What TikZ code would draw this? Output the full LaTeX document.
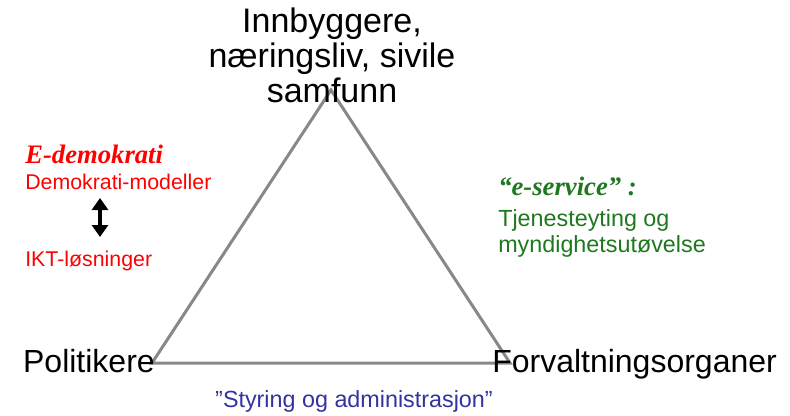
\documentclass[tikz,border=0pt]{standalone}
\usepackage{fontspec}
\setmainfont{Liberation Sans}
\newfontfamily\headfont{Liberation Serif}
\usetikzlibrary{arrows.meta,positioning}
\definecolor{edgegray}{RGB}{136,136,136}
\definecolor{edemored}{RGB}{255,0,0}
\definecolor{servgreen}{RGB}{30,120,30}
\definecolor{styrblue}{RGB}{51,51,160}
\tikzset{
  basic/.style  = {inner sep=0pt, font=\fontsize{24}{28}\selectfont},
  corner/.style = {basic, anchor=base},
  head/.style   = {inner sep=0pt, anchor=base west, font=\headfont\bfseries\itshape\fontsize{20}{24}\selectfont},
  plain/.style  = {inner sep=0pt, anchor=base west, font=\fontsize{16}{19}\selectfont},
  side/.style   = {draw=edgegray, line width=2.25pt, line join=miter},
  twoway/.style = {{Triangle[width=12pt,length=9pt]}-{Triangle[width=12pt,length=9pt]}, line width=3pt}
}

\begin{document}
\begin{tikzpicture}[x=0.75pt,y=-0.75pt]
\useasboundingbox (0,0) rectangle (790,415);

% triangle corners
\coordinate (apex)  at (331,90);
\coordinate (left)  at (152,363);
\coordinate (right) at (510,363);
\draw[side] (apex) -- (left) -- (right) -- cycle;

% actors
\node[basic, align=center, font=\fontsize{25.5}{26.3}\selectfont] (citizens) at (332,55) {Innbyggere,\\næringsliv, sivile\\samfunn};
\node[corner, anchor=base east] (politicians) at (155,372) {Politikere};
\node[corner, anchor=base west] (agencies) at (492,372) {Forvaltningsorganer};

% e-democracy
\node[head, text=edemored] (edemo) at (25,163) {E-demokrati};
\node[plain, text=edemored] (models) at (25,189) {Demokrati-modeller};
\node[plain, text=edemored] (ict) at (25,266) {IKT-løsninger};
\coordinate (arrtop) at (100,198);
\coordinate (arrbot) at (100,237);
\draw[twoway] (arrtop) -- (arrbot);

% e-service
\node[head, text=servgreen] (eserv) at (498,195) {“e-service” :};
\node[plain, text=servgreen, font=\fontsize{17.5}{20}\selectfont] (serv1) at (498,226) {Tjenesteyting og};
\node[plain, text=servgreen, font=\fontsize{17.5}{20}\selectfont] (serv2) at (498,252) {myndighetsutøvelse};

\node[inner sep=0pt, anchor=base, text=styrblue, font=\fontsize{17.5}{20}\selectfont] (admin) at (354,407) {"Styring og administrasjon"};
\end{tikzpicture}
\end{document}
